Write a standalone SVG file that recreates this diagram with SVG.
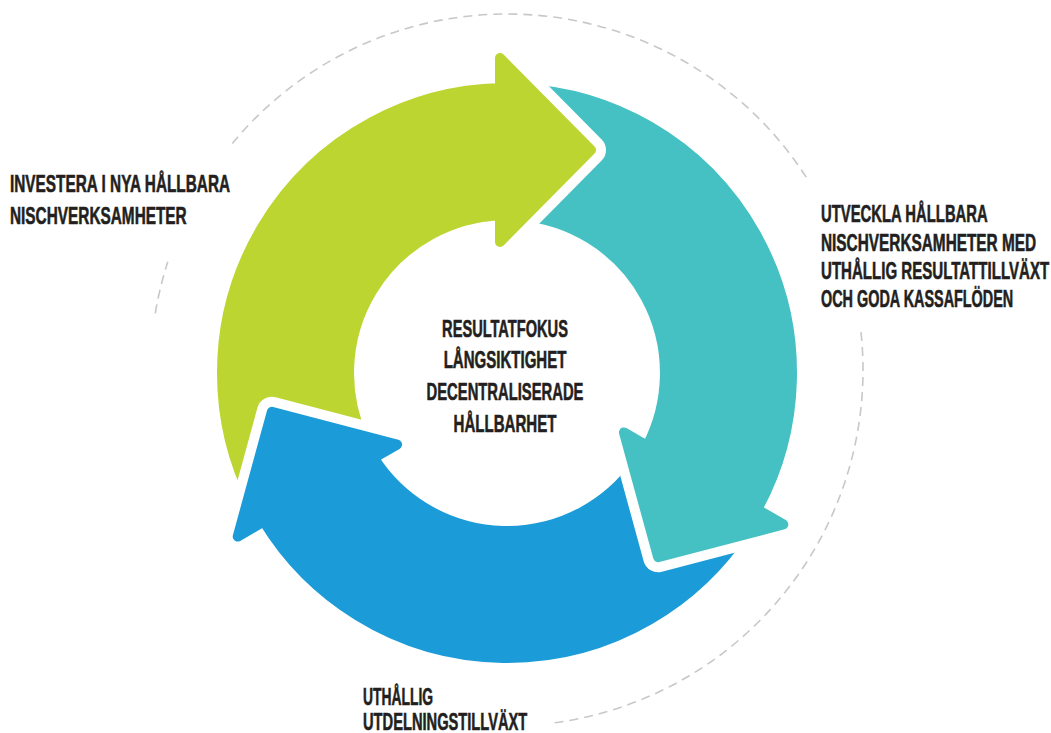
<svg xmlns="http://www.w3.org/2000/svg" xmlns:xlink="http://www.w3.org/1999/xlink" width="1051" height="733" viewBox="0 0 1051 733">
<style>
.gap{fill:#fff;stroke:#fff;stroke-width:30;stroke-linejoin:round}
.green{fill:#bdd531;stroke:#bdd531;stroke-width:10;stroke-linejoin:round}
.teal{fill:#45c1c3;stroke:#45c1c3;stroke-width:10;stroke-linejoin:round}
.blue{fill:#1b9bd7;stroke:#1b9bd7;stroke-width:10;stroke-linejoin:round}
.dash{fill:none;stroke:#c8c8c8;stroke-width:1.6;stroke-dasharray:9 6}
.lbl{font-family:"Liberation Sans",Arial,sans-serif;font-weight:bold;font-size:24px;fill:#231f20;stroke:#231f20;stroke-width:0.6}
</style>
<defs>
<path id="arrow" d="M -254 129.3 A 285 285 0 0 1 -7 -284.9 L -7 -315 L 84 -223 L -7 -131 L -7 -157.8 A 158 158 0 0 0 -143.7 65.65 Z"/>
<clipPath id="gclip"><rect x="-4" y="-345" width="135" height="240"/></clipPath>
</defs>
<rect width="1051" height="733" fill="#fff"/>
<g id="connectors">
<path class="dash" d="M 232.3 143.5 A 356 356 0 0 1 807.9 179.8"/>
<path class="dash" d="M 861 332.2 A 356 356 0 0 1 553.5 722.9"/>
<path class="dash" d="M 155.3 313.3 A 356 356 0 0 1 167.8 261.8"/>
</g>
<g id="cycle" transform="translate(507,373)">
<g id="arrow-green"><use xlink:href="#arrow" class="gap"/><use xlink:href="#arrow" class="green"/></g>
<g id="arrow-blue" transform="rotate(240)"><use xlink:href="#arrow" class="gap"/><use xlink:href="#arrow" class="blue"/></g>
<g id="arrow-teal" transform="rotate(120)"><use xlink:href="#arrow" class="gap"/><use xlink:href="#arrow" class="teal"/></g>
<g id="arrow-green-head" clip-path="url(#gclip)"><use xlink:href="#arrow" class="gap"/><use xlink:href="#arrow" class="green"/></g>
</g>
<g id="label-invest">
<text class="lbl" transform="translate(10,192) scale(0.62,1)" textLength="355" lengthAdjust="spacingAndGlyphs">INVESTERA I NYA HÅLLBARA</text>
<text class="lbl" transform="translate(10,224) scale(0.62,1)" textLength="285" lengthAdjust="spacingAndGlyphs">NISCHVERKSAMHETER</text>
</g>
<g id="label-develop">
<text class="lbl" transform="translate(821,222) scale(0.62,1)" textLength="269" lengthAdjust="spacingAndGlyphs">UTVECKLA HÅLLBARA</text>
<text class="lbl" transform="translate(821,250.5) scale(0.62,1)" textLength="347" lengthAdjust="spacingAndGlyphs">NISCHVERKSAMHETER MED</text>
<text class="lbl" transform="translate(821,279) scale(0.62,1)" textLength="368" lengthAdjust="spacingAndGlyphs">UTHÅLLIG RESULTATTILLVÄXT</text>
<text class="lbl" transform="translate(821,307) scale(0.62,1)" textLength="310" lengthAdjust="spacingAndGlyphs">OCH GODA KASSAFLÖDEN</text>
</g>
<g id="label-dividend">
<text class="lbl" transform="translate(363,705) scale(0.62,1)" textLength="113" lengthAdjust="spacingAndGlyphs">UTHÅLLIG</text>
<text class="lbl" transform="translate(363,730) scale(0.62,1)" textLength="265" lengthAdjust="spacingAndGlyphs">UTDELNINGSTILLVÄXT</text>
</g>
<g id="label-center" text-anchor="middle">
<text class="lbl" transform="translate(505,337) scale(0.62,1)" textLength="203" lengthAdjust="spacingAndGlyphs">RESULTATFOKUS</text>
<text class="lbl" transform="translate(505,368) scale(0.62,1)" textLength="198" lengthAdjust="spacingAndGlyphs">LÅNGSIKTIGHET</text>
<text class="lbl" transform="translate(505,400) scale(0.62,1)" textLength="253" lengthAdjust="spacingAndGlyphs">DECENTRALISERADE</text>
<text class="lbl" transform="translate(505,432) scale(0.62,1)" textLength="166" lengthAdjust="spacingAndGlyphs">HÅLLBARHET</text>
</g>
</svg>
